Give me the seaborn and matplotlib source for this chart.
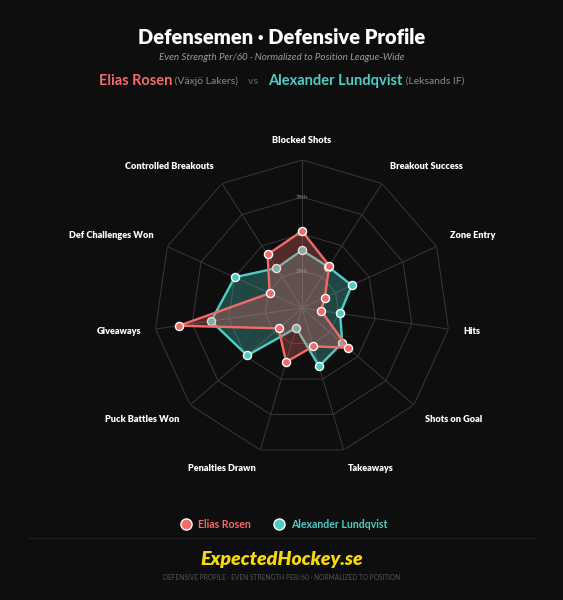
import numpy as np
import pandas as pd
import seaborn as sns
import matplotlib.pyplot as plt
from matplotlib.lines import Line2D

# metrics clockwise from the top
metrics = ["Blocked Shots", "Breakout Success", "Zone Entry", "Hits",
           "Shots on Goal", "Takeaways", "Penalties Drawn", "Puck Battles Won",
           "Giveaways", "Def Challenges Won", "Controlled Breakouts"]
# percentile vs position, league-wide
rosen = [52, 34, 17, 13, 41, 27, 38, 21, 84, 24, 43]
lundqvist = [39, 33, 37, 26, 36, 41, 14, 49, 62, 50, 32]
ring_levels = [25, 50, 75, 100]
ring_labels = ["25th", "50th", "75th"]

BG = "#0e0e0e"
RED = "#f26b6b"
TEAL = "#4ecdc4"
FONT = ["Lato", "DejaVu Sans"]


def make_frame(values):
    n = len(metrics)
    ang = np.linspace(0, 2 * np.pi, n, endpoint=False)
    df = pd.DataFrame({"metric": metrics, "angle": ang, "value": values})
    closed = pd.concat([df, df.iloc[:1]], ignore_index=True)
    return df, closed


def main():
    sns.set_theme(style="dark")
    plt.rcParams["font.family"] = FONT
    fig = plt.figure(figsize=(5.63, 6.0), dpi=100, facecolor=BG)
    ax = fig.add_axes([0.2735, 0.24, 0.5258, 0.4933], projection="polar")
    ax.set_facecolor(BG)
    ax.set_theta_offset(np.pi / 2)
    ax.set_theta_direction(-1)
    ax.set_ylim(0, 100)
    ax.grid(False)
    ax.spines["polar"].set_visible(False)
    ax.set_xticks([])
    ax.set_yticks([])

    n = len(metrics)
    angles = np.linspace(0, 2 * np.pi, n, endpoint=False)
    closed_ang = np.append(angles, angles[0])

    # polygon grid
    for lev in ring_levels:
        ax.plot(closed_ang, [lev] * (n + 1), color="#383838", lw=0.7, zorder=1)
    for a in angles:
        ax.plot([a, a], [0, 100], color="#383838", lw=0.7, zorder=1)
    for lev, lab in zip(ring_levels, ring_labels):
        ax.text(0, lev, lab, color="#6a6a6a", fontsize=4.2, fontweight="bold",
                ha="center", va="center", zorder=2)

    # players: teal first, red layer fully on top
    for i, (vals, col, name) in enumerate([(lundqvist, TEAL, "Alexander Lundqvist"),
                                           (rosen, RED, "Elias Rosen")]):
        z = 3 + i * 3
        df, closed = make_frame(vals)
        ax.fill(closed["angle"], closed["value"], color=col, alpha=0.3, zorder=z)
        sns.lineplot(data=closed, x="angle", y="value", sort=False, estimator=None,
                     color=col, lw=1.7, ax=ax, zorder=z + 1)
        sns.scatterplot(data=df, x="angle", y="value", color=col, s=34,
                        edgecolor="white", linewidth=1.0, ax=ax, zorder=z + 2, label=name)
    ax.set_xlabel("")
    ax.set_ylabel("")
    ax.get_legend().remove()

    # axis labels
    for a, m in zip(angles, metrics):
        s, c = np.sin(a), np.cos(a)
        ha = "center" if abs(s) < 0.1 else ("left" if s > 0 else "right")
        va = "center" if abs(c) < 0.3 else ("bottom" if c > 0 else "top")
        ax.text(a, 110, m, color="white", fontsize=6.6, fontweight="heavy",
                ha=ha, va=va)

    # titles
    fig.text(0.5, 1 - 37 / 600, "Defensemen \u00b7 Defensive Profile", color="white",
             fontsize=14.5, fontweight="heavy", ha="center", va="center")
    fig.text(0.5, 1 - 58 / 600,
             "Even Strength Per/60 \u00b7 Normalized to Position League-Wide",
             color="#9a9a9a", fontsize=7.1, style="italic", ha="center", va="center")

    parts = [("Elias Rosen", RED, "bold", 10.5), (" (Växjö Lakers)", "#8a8a8a", "normal", 7.5),
             ("    vs    ", "#555555", "bold", 7.5), ("Alexander Lundqvist", TEAL, "bold", 10.5),
             (" (Leksands IF)", "#8a8a8a", "normal", 7.5)]
    y = 1 - 81 / 600
    txts = [fig.text(0, y, p, color=c, fontweight=w, fontsize=fs, ha="left",
                     va="center") for p, c, w, fs in parts]
    fig.canvas.draw()
    r = fig.canvas.get_renderer()
    widths = [t.get_window_extent(r).width / fig.bbox.width for t in txts]
    x = 0.5 - sum(widths) / 2
    for t, w in zip(txts, widths):
        t.set_x(x)
        x += w

    # legend
    handles = [Line2D([], [], marker="o", ls="", markersize=8, markerfacecolor=col,
                      markeredgecolor="white", markeredgewidth=1.0) for col in (RED, TEAL)]
    fig.legend(handles, ["Elias Rosen", "Alexander Lundqvist"], loc="center",
               bbox_to_anchor=(0.5, 1 - 524 / 600), ncol=2, frameon=False,
               labelcolor=[RED, TEAL], prop={"weight": "bold", "size": 7.6},
               handletextpad=0.2, columnspacing=1.6)

    fig.add_artist(Line2D([29 / 563, 535 / 563], [1 - 538 / 600] * 2,
                          color="#222222", lw=0.8))
    fig.text(0.5, 1 - 560 / 600, "ExpectedHockey.se", color="#f5d90a", fontsize=14,
             fontweight="heavy", style="italic", ha="center", va="center")
    fig.text(0.5, 1 - 578 / 600,
             "DEFENSIVE PROFILE \u00b7 EVEN STRENGTH PER/60 \u00b7 NORMALIZED TO POSITION",
             color="#555555", fontsize=4.8, ha="center", va="center")

    fig.savefig("out.png", dpi=100, facecolor=BG)


if __name__ == "__main__":
    main()
